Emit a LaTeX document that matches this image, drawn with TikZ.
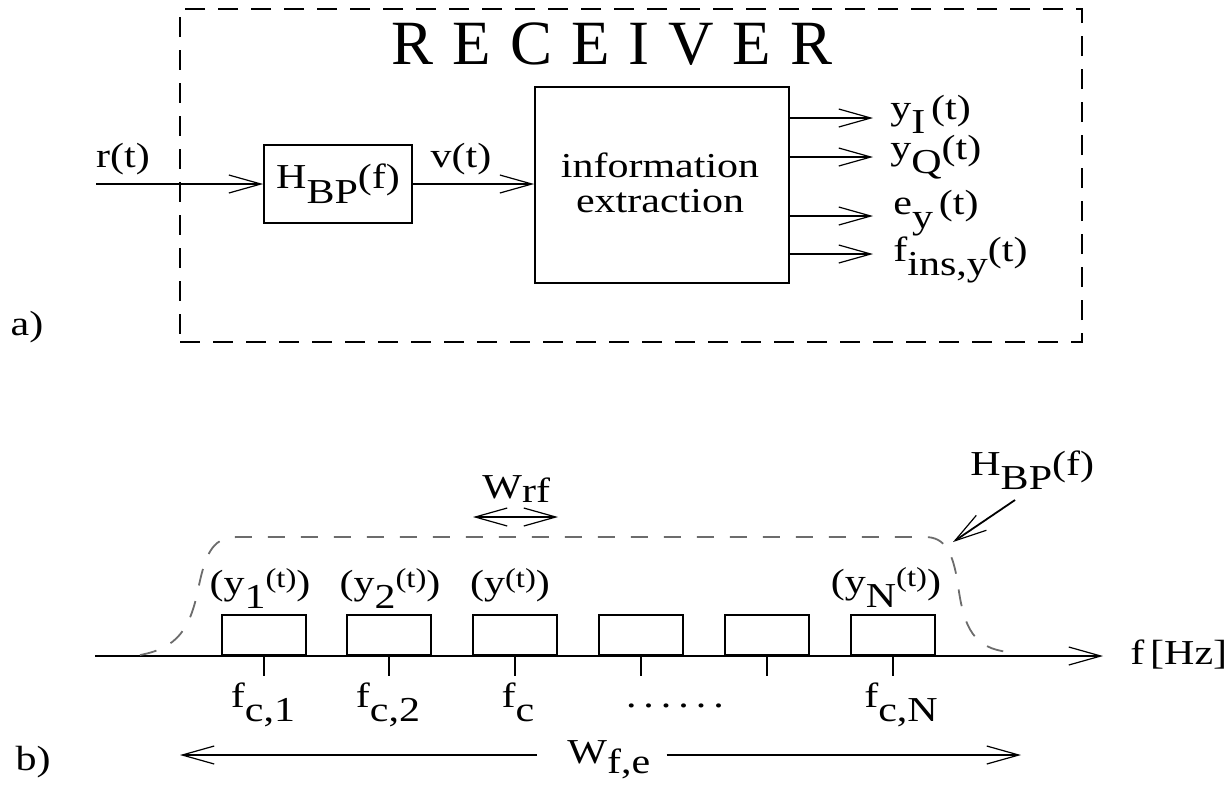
\documentclass[tikz,border=0pt]{standalone}
\usepackage{fontspec}
\setmainfont[FakeStretch=1.2]{Liberation Serif}
\newfontfamily\titlefont{Liberation Serif}
\usepackage{graphicx}
\usetikzlibrary{arrows.meta}
\newcommand{\lo}[1]{\raisebox{-0.42em}{#1}}
\newcommand{\hi}[1]{\raisebox{0.2em}{\scalebox{0.78}{#1}}}
\newcommand{\gap}{\hspace{0.3em}}
\newcommand{\dotgap}{\hspace{0.2em}}
\begin{document}
\begin{tikzpicture}[x=0.5pt,y=-0.5pt,
  font=\fontsize{17.5}{17.5}\selectfont,
  box/.style={draw,line width=0.9pt,inner sep=0pt},
  frame/.style={draw,line width=0.9pt,dash pattern=on 10pt off 6.5pt,inner sep=0pt},
  arr/.style={line width=0.9pt,-{Straight Barb[length=16pt,width=9pt,line width=0.6pt]}},
  darr/.style={line width=0.9pt,{Straight Barb[length=16pt,width=9pt,line width=0.6pt]}-{Straight Barb[length=16pt,width=9pt,line width=0.6pt]}},
  curve/.style={line width=0.9pt,gray!85!black,dash pattern=on 8.5pt off 8pt},
  lbl/.style={inner sep=0pt}]
\useasboundingbox (0,0) rectangle (1231,784);

% ---------- part a) ----------
\node[frame,minimum width=451pt,minimum height=166.5pt] (frame) at (631,175.5) {};
\node[lbl,font=\titlefont\fontsize{31.5}{32}\selectfont] (title) at (612,44)
  {R\gap E\gap C\gap E\gap I\gap V\gap E\gap R};

\coordinate (rin) at (96,184);
\node[box,minimum width=74pt,minimum height=39pt] (hbp) at (338,184) {H\lo{BP}(f)};
\node[box,minimum width=127pt,minimum height=98pt] (ie) at (662,185) {};
\node[lbl,align=center,font=\fontsize{17.5}{17.5}\selectfont] (ietxt) at (660,183) {information\\extraction};

\node[lbl,anchor=base] (rt) at (123,167) {r(t)};
\node[lbl,anchor=base] (vt) at (461,167) {v(t)};

\draw[arr] (rin) -- (hbp.west);
\draw[arr] (hbp.east) -- (hbp.east -| ie.west);

\coordinate (o1) at (873,118);
\coordinate (o2) at (873,157);
\coordinate (o3) at (873,216);
\coordinate (o4) at (873,254);
\draw[arr] (ie.east |- o1) -- (o1);
\draw[arr] (ie.east |- o2) -- (o2);
\draw[arr] (ie.east |- o3) -- (o3);
\draw[arr] (ie.east |- o4) -- (o4);
\node[lbl,anchor=base west] (yI) at (890,119) {y\lo{I}\,(t)};
\node[lbl,anchor=base west] (yQ) at (890,159) {y\lo{Q}(t)};
\node[lbl,anchor=base west] (ey) at (893,214) {e\lo{y}\,(t)};
\node[lbl,anchor=base west] (fins) at (893,261) {f\lo{ins,y}(t)};

\node[lbl] (la) at (27,327) {a)};

% ---------- part b) ----------
\coordinate (axL) at (95,656);
\coordinate (axR) at (1103,656);
\draw[arr] (axL) -- (axR);
\node[lbl,anchor=base west] (fhz) at (1130,664) {f\,[Hz]};

\foreach \i/\x in {1/264,2/389,3/515,4/641,5/767,6/893}{
  \node[box,minimum width=42pt,minimum height=20pt,anchor=south] (b\i) at (\x,656) {};
  \coordinate (t\i) at (\x,676);
  \draw[line width=0.9pt] (b\i.south) -- (t\i);
}

\node[lbl,anchor=base] (l1) at (260,594) {(y\lo{1}\hi{(t)})};
\node[lbl,anchor=base] (l2) at (390,594) {(y\lo{2}\hi{(t)})};
\node[lbl,anchor=base] (l3) at (510,594) {(y\hi{(t)})};
\node[lbl,anchor=base] (l6) at (886,593) {(y\lo{N}\hi{(t)})};

\node[lbl,anchor=base] (f1) at (263,707) {f\lo{c,1}};
\node[lbl,anchor=base] (f2) at (388,707) {f\lo{c,2}};
\node[lbl,anchor=base] (f3) at (518,707) {f\lo{c}};
\node[lbl,anchor=base] (dots) at (675,707) {.\dotgap.\dotgap.\dotgap.\dotgap.\dotgap.};
\node[lbl,anchor=base] (f6) at (901,707) {f\lo{c,N}};

% band-pass curve
\draw[curve] (140,655) .. controls (178,648) and (190,628) .. (198,590)
  .. controls (206,550) and (214,537) .. (238,537) -- (925,537)
  .. controls (945,537) and (953,552) .. (958,585)
  .. controls (964,630) and (975,648) .. (1008,652);

% W_rf
\node[lbl,anchor=base west] (wrf) at (482,498) {W\raisebox{-0.12em}{rf}};
\coordinate (wrfL) at (473,517);
\coordinate (wrfR) at (558,517);
\draw[darr] (wrfL) -- (wrfR);

% H_BP(f) pointer
\node[lbl,anchor=base west] (hbpl) at (970,475) {H\lo{BP}(f)};
\coordinate (hbps) at (1015,500);
\coordinate (hbpt) at (953,542);
\draw[arr] (hbps) -- (hbpt);

% W_f,e
\node[lbl,anchor=base west] (wfe) at (567,763) {W\raisebox{-0.3em}{f,e}};
\coordinate (wl) at (180,755);
\coordinate (wr) at (1021,755);
\draw[arr] ([xshift=-15pt]wfe.west |- wl) -- (wl);
\draw[arr] ([xshift=8pt]wfe.east |- wr) -- (wr);

\node[lbl] (lb) at (33,762) {b)};
\end{tikzpicture}
\end{document}
